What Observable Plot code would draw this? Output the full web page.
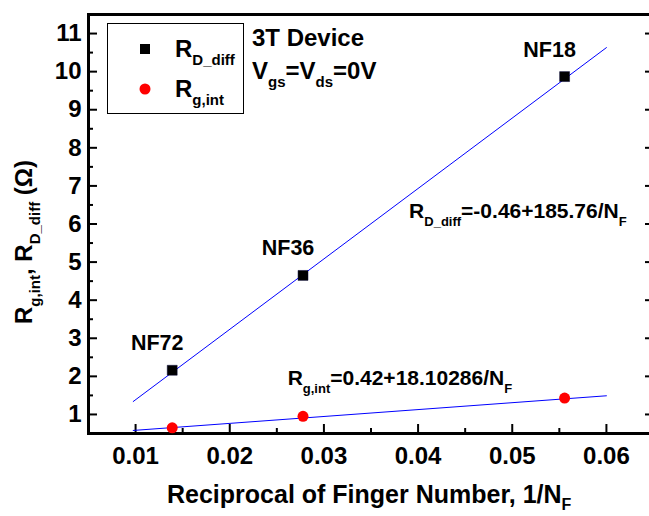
<!DOCTYPE html>
<html><head><meta charset="utf-8">
<script src="https://cdn.jsdelivr.net/npm/d3@7"></script>
<script src="https://cdn.jsdelivr.net/npm/@observablehq/plot@0.6"></script>
<style>
html,body{margin:0;padding:0;background:#fff;overflow:hidden;}
#chart{width:649px;height:516px;overflow:hidden;}
#chart text{white-space:pre;}
</style></head><body><div id="chart"></div>
<script>
// ---- data ----
const fingerLabels = ["NF72", "NF36", "NF18"];
const reciprocalNF = [0.01389, 0.02778, 0.05556];
const rDdiff = [2.16, 4.65, 9.87];
const rGint = [0.65, 0.95, 1.43];
const fitX = [0.00975, 0.06];
const fitDdiff = [1.34, 10.63];
const fitGint = [0.58, 1.49];
const xTicks = [0.01, 0.02, 0.03, 0.04, 0.05, 0.06];
const xMinorTicks = [0.005, 0.015, 0.025, 0.035, 0.045, 0.055];
const yTicks = [1, 2, 3, 4, 5, 6, 7, 8, 9, 10, 11];
const yMinorTicks = [1.5, 2.5, 3.5, 4.5, 5.5, 6.5, 7.5, 8.5, 9.5, 10.5];
const eqDdiffPos = [0.0391, 6.15];
const eqGintPos = [0.0262, 1.76];

const points = fingerLabels.map((label, i) => ({label, x: reciprocalNF[i], d: rDdiff[i], g: rGint[i]}));
const fitD = fitX.map((x, i) => ({x, y: fitDdiff[i]}));
const fitG = fitX.map((x, i) => ({x, y: fitGint[i]}));

const FONT = "'Liberation Sans', Arial, Helvetica, sans-serif";
const plot = Plot.plot({
  width: 649, height: 516,
  marginLeft: 88, marginRight: -4, marginTop: 14, marginBottom: 83,
  x: {domain: [0.005, 0.065]},
  y: {domain: [0.5, 11.5]},
  style: {fontFamily: FONT, fontWeight: "bold", color: "#000", background: "#fff"},
  marks: [
    // ticks (inward)
    Plot.axisX(xTicks, {anchor: "bottom", tickSize: 9, dy: -9, fill: "none", stroke: "#000", strokeWidth: 2, label: null}),
    Plot.axisX(xMinorTicks, {anchor: "bottom", tickSize: 5, dy: -5, fill: "none", stroke: "#000", strokeWidth: 2, label: null}),
    Plot.axisY(yTicks, {anchor: "left", tickSize: 9, dx: 9, fill: "none", stroke: "#000", strokeWidth: 2, label: null}),
    Plot.axisY(yMinorTicks, {anchor: "left", tickSize: 5, dx: 5, fill: "none", stroke: "#000", strokeWidth: 2, label: null}),
    Plot.axisY(yTicks, {anchor: "right", tickSize: 9, dx: -9, fill: "none", stroke: "#000", strokeWidth: 2, label: null}),
    // tick labels
    Plot.axisX(xTicks, {anchor: "bottom", tickSize: 0, tickPadding: 13, tickFormat: d3.format(".2f"), fontSize: 24, fill: "#000", label: null}),
    Plot.axisY(yTicks, {anchor: "left", tickSize: 0, tickPadding: 7, tickFormat: d3.format("d"), fontSize: 24, fill: "#000", label: null}),
    Plot.frame({stroke: "#000", strokeWidth: 3}),
    // fit lines
    Plot.line(fitD, {x: "x", y: "y", stroke: "#0000ff", strokeWidth: 1}),
    Plot.line(fitG, {x: "x", y: "y", stroke: "#0000ff", strokeWidth: 1}),
    // points
    Plot.dot(points, {x: "x", y: "d", symbol: "square", r: 5.6, fill: "#000", stroke: "#000033", strokeWidth: 0.5}),
    Plot.dot(points, {x: "x", y: "g", symbol: "circle", r: 5.5, fill: "#ff0000"}),
    Plot.text(points, {x: "x", y: "d", text: "label", dx: -15, dy: -20, lineAnchor: "bottom", fontSize: 21.5, fill: "#000"})
  ]
});
document.getElementById("chart").appendChild(plot);

const svg = d3.select(plot);
const sx = plot.scale("x"), sy = plot.scale("y");
const g = svg.append("g").attr("font-family", FONT).attr("font-weight", "bold").attr("fill", "#000");

function rich(parent, x, y, parts, size, subSize, shift, anchor = "start") {
  const t = parent.append("text").attr("x", x).attr("y", y)
    .attr("font-size", size).attr("text-anchor", anchor).style("white-space", "pre");
  let down = false;
  for (const [s, sub] of parts) {
    const ts = t.append("tspan").text(s);
    if (sub) { ts.attr("font-size", subSize); if (!down) { ts.attr("dy", shift); down = true; } }
    else if (down) { ts.attr("dy", -shift); down = false; }
  }
  return t;
}

// legend
g.append("rect").attr("x", 107.5).attr("y", 23.5).attr("width", 136).attr("height", 90)
  .attr("fill", "none").attr("stroke", "#000").attr("stroke-width", 1);
g.append("rect").attr("x", 140).attr("y", 44).attr("width", 10).attr("height", 10).attr("fill", "#000");
g.append("circle").attr("cx", 145).attr("cy", 89).attr("r", 5.5).attr("fill", "#ff0000");
rich(g, 175, 57, [["R", false], ["D_diff", true]], 24, 15, 8);
rich(g, 175, 97, [["R", false], ["g,int", true]], 24, 15, 8);

// device text
rich(g, 252, 46, [["3T Device", false]], 24, 15, 8);
rich(g, 252, 79, [["V", false], ["gs", true], ["=V", false], ["ds", true], ["=0V", false]], 24, 15, 8);

// equations
rich(g, sx.apply(eqDdiffPos[0]), sy.apply(eqDdiffPos[1]),
  [["R", false], ["D_diff", true], ["=-0.46+185.76/N", false], ["F", true]], 21, 13, 8);
rich(g, sx.apply(eqGintPos[0]), sy.apply(eqGintPos[1]),
  [["R", false], ["g,int", true], ["=0.42+18.10286/N", false], ["F", true]], 21, 13, 8);

// axis titles
rich(g, 167, 503, [["Reciprocal of Finger Number, 1/N", false], ["F", true]], 25, 16, 7);
const yt = rich(g, 0, 0, [["R", false], ["g,int", true], [", R", false], ["D_diff", true], [" (\u03A9)", false]], 24, 15, 8, "middle");
yt.attr("transform", "translate(32,242) rotate(-90)");
</script>
</body></html>
